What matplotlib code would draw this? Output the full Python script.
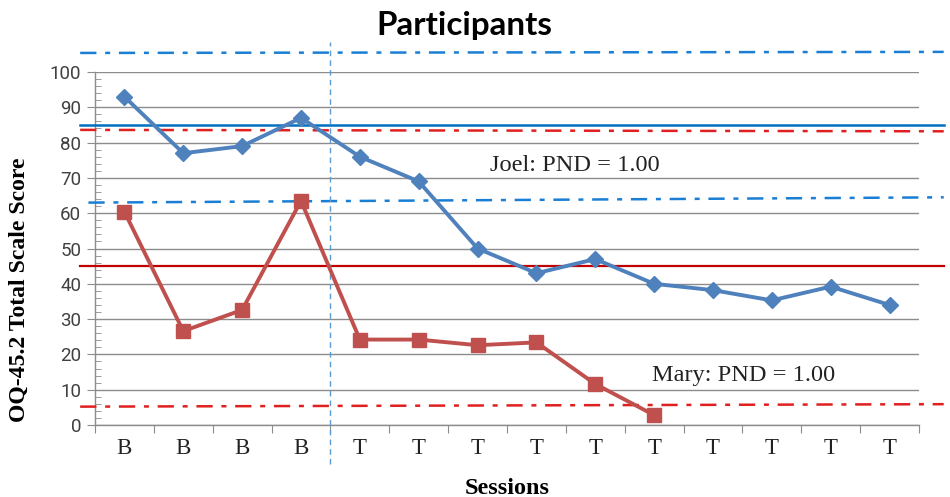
import matplotlib
matplotlib.use("Agg")
import matplotlib.pyplot as plt
import matplotlib.transforms as mtransforms
from matplotlib.ticker import MultipleLocator

sessions = ["B", "B", "B", "B", "T", "T", "T", "T", "T", "T", "T", "T", "T", "T"]
joel = [93, 77, 79, 87, 76, 69, 50, 43, 47, 40, 38.2, 35.3, 39.2, 34]
mary = [60.4, 26.6, 32.6, 63.5, 24.2, 24.2, 22.6, 23.4, 11.6, 2.8]

# reference lines: (left level, right level)
joel_mean = 85.0
mary_mean = 45.0
joel_band_hi = (105.4, 105.7)
joel_band_lo = (63.0, 64.5)
mary_band_hi = (83.6, 83.2)
mary_band_lo = (5.2, 5.9)
phase_change = 3.5

fig = plt.figure(figsize=(9.5, 4.97), dpi=100)
ax = fig.add_axes([95/950, 1-425/497, (919-95)/950, (425-72)/497])

x = list(range(len(sessions)))
ax.set_xlim(-0.5, len(sessions) - 0.5)
ax.set_ylim(0, 100)

blue = "#4F81BD"
red = "#C0504D"

# gridlines
ax.yaxis.set_major_locator(MultipleLocator(10))
ax.yaxis.set_minor_locator(MultipleLocator(2))
ax.grid(axis="y", which="major", color="#8C8C8C", lw=1.0, zorder=0)
ax.set_axisbelow(True)

trans = mtransforms.blended_transform_factory(ax.transAxes, ax.transData)
ax_x0, ax_x1 = -0.018, 1.03

ax.plot([ax_x0, ax_x1], [joel_mean, joel_mean], transform=trans, color="#0070C0",
        lw=1.8, clip_on=False, zorder=3)
ax.plot([ax_x0, ax_x1], [mary_mean, mary_mean], transform=trans, color="#C00000",
        lw=1.6, clip_on=False, zorder=3)
dd = (0, (6.5, 3.5, 2, 3.5))
ax.plot([ax_x0, ax_x1], list(joel_band_hi), transform=trans, color="#1A7ED4",
        lw=1.8, ls=dd, clip_on=False, zorder=3)
ax.plot([-0.008, ax_x1], list(joel_band_lo), transform=trans, color="#1A7ED4",
        lw=1.8, ls=dd, clip_on=False, zorder=3)
ax.plot([ax_x0, ax_x1], list(mary_band_hi), transform=trans, color="#E02020",
        lw=1.8, ls=dd, clip_on=False, zorder=3)
ax.plot([ax_x0, ax_x1], list(mary_band_lo), transform=trans, color="#E02020",
        lw=1.8, ls=dd, clip_on=False, zorder=3)

# phase change line
tx = mtransforms.blended_transform_factory(ax.transData, ax.transAxes)
ax.plot([phase_change, phase_change], [-0.11, 1.085], transform=tx, color="#5B9BD5",
        lw=1.0, ls=(0, (4, 3)), clip_on=False, zorder=3)

ax.plot(x, joel, color=blue, lw=2.8, marker="D", ms=8.3, zorder=5, clip_on=False)
ax.plot(x[:len(mary)], mary, color=red, lw=2.8, marker="s", ms=9.5, zorder=5, clip_on=False)

renderer = fig.canvas.get_renderer()


def fit(t, target, horizontal=True):
    for _ in range(3):
        bb = t.get_window_extent(renderer=renderer)
        w = bb.width if horizontal else bb.height
        t.set_fontsize(t.get_fontsize() * target / w)


t1 = ax.text(7.66, 73.6, "Joel: PND = 1.00", family="Liberation Serif", fontsize=13.5,
             ha="center", va="center", color="#222222", zorder=6)
fit(t1, 170)
t2 = ax.text(10.52, 14.0, "Mary: PND = 1.00", family="Liberation Serif", fontsize=13.5,
             ha="center", va="center", color="#222222", zorder=6)
fit(t2, 183)

# axes styling
for s in ["top", "right"]:
    ax.spines[s].set_visible(False)
for s in ["left", "bottom"]:
    ax.spines[s].set_color("#8C8C8C")
    ax.spines[s].set_linewidth(1.0)

ax.set_xticks([i - 0.5 for i in range(len(sessions) + 1)], minor=False)
ax.set_xticklabels([])
ax.set_xticks(x, minor=True)
ax.set_xticklabels(sessions, minor=True, family="Liberation Serif", fontsize=16.5, color="#222222")
ax.tick_params(axis="x", which="major", length=6, color="#8C8C8C", direction="out")
ax.tick_params(axis="x", which="minor", length=0, pad=9)
ax.tick_params(axis="y", which="major", length=6, color="#8C8C8C", direction="out",
               labelsize=13.5, labelcolor="#404040", pad=4)
ax.tick_params(axis="y", which="minor", length=4, color="#8C8C8C", direction="in")
for lab in ax.get_yticklabels():
    lab.set_family("Roboto")

tt = fig.text(464/950, 1-25/497, "Participants", family="Lato", fontweight="bold",
              fontsize=20, ha="center", va="center", color="#000000")
fit(tt, 176)
ty = fig.text(19/950, 1-290/497, "OQ-45.2 Total Scale Score", family="Liberation Serif",
              fontweight="bold", fontsize=16, rotation=90, ha="center", va="center")
fit(ty, 265, horizontal=False)
ts = fig.text(507/950, 1-488/497, "Sessions", family="Liberation Serif", fontweight="bold",
              fontsize=17, ha="center", va="center")
fit(ts, 85)

fig.savefig("out.png", dpi=100)
